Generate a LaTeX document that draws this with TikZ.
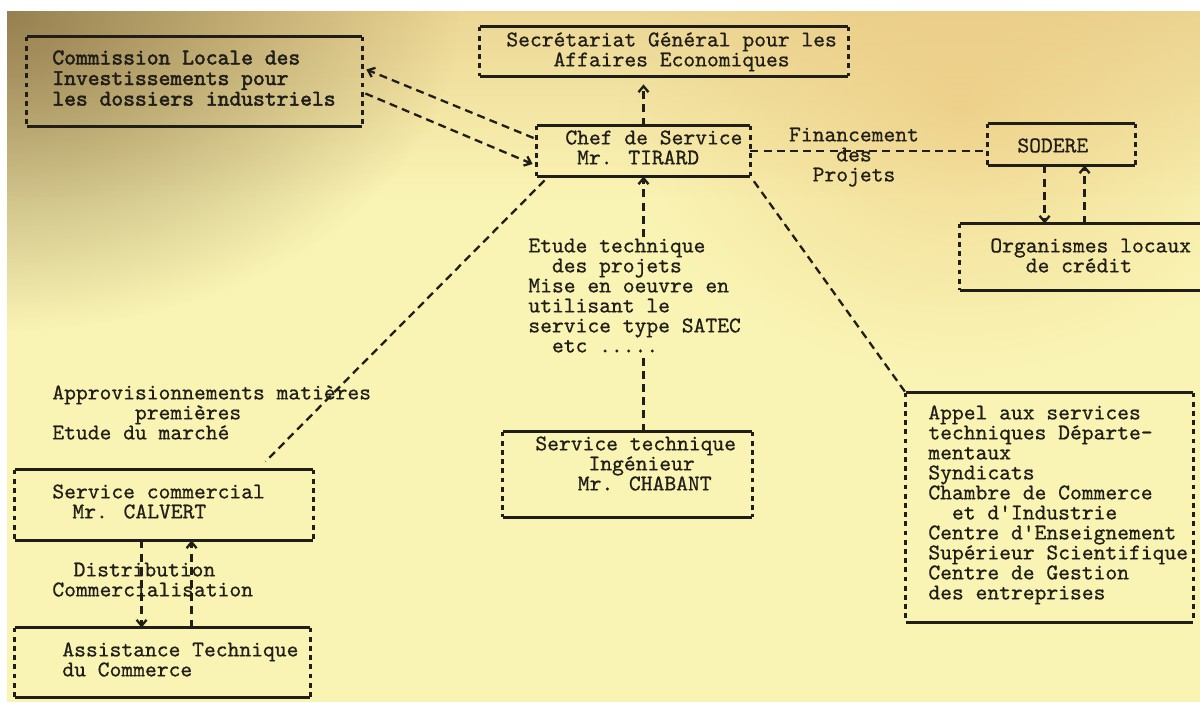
\documentclass[tikz,border=0pt]{standalone}
\usepackage{fontspec}
\newfontfamily\tw{lmmono10-regular.otf}[FakeBold=0.7]
\newfontfamily\twb{lmmono10-regular.otf}[FakeBold=2.2]
\usetikzlibrary{arrows.meta,calc,fit,fadings}
\definecolor{paper}{RGB}{250,244,180}
\definecolor{tanc}{RGB}{236,214,148}
\definecolor{umber}{RGB}{140,118,72}
\definecolor{peach}{RGB}{232,190,115}
\definecolor{ink}{RGB}{32,30,24}
\newlength\chw \setlength\chw{5.9pt}
\newcommand{\tind}[1]{\hspace*{#1\chw}}
\newcommand{\fstrut}{\rule{0pt}{7.5pt}}
\tikzfading[name=radfade, inner color=transparent!0, outer color=transparent!100]
\newcommand{\tbox}[5]{%
  \node[fit={(#2,#3) (#4,#5)}, inner sep=0pt] (#1) {};
  \draw[hedge] (#1.north west) -- (#1.north east);
  \draw[hedge] (#1.south west) -- (#1.south east);
  \draw[vedge] (#1.north west) -- (#1.south west);
  \draw[vedge] (#1.north east) -- (#1.south east);
}
\begin{document}
\begin{tikzpicture}[x=0.5pt,y=-0.5pt,
  hedge/.style={draw=ink, line width=1.2pt},
  vedge/.style={draw=ink, line width=1.2pt, dash pattern=on 2.4pt off 2.2pt},
  conn/.style={draw=ink, line width=1.15pt, dash pattern=on 4pt off 2.6pt,
     >={Straight Barb[length=3pt,width=5pt]}},
  txt/.style={anchor=north west, inner sep=0pt, align=left, text=ink,
     font=\tw\fontsize{11.24}{10}\selectfont},
  ctxt/.style={txt, anchor=north, align=center}]
\useasboundingbox (0,0) rectangle (1200,702);
% paper
\fill[white] (0,0) rectangle (1200,702);
\begin{scope}
  \clip (7,11) rectangle (1200,702);
  \fill[paper] (7,11) rectangle (1200,702);
  \shade[top color=tanc, bottom color=paper] (7,11) rectangle (1200,200);
  \fill[peach, opacity=0.5, path fading=radfade] (960,110) ellipse (340 and 260);
  \fill[umber, opacity=0.9, path fading=radfade] (0,11) ellipse (460 and 320);
\end{scope}
% boxes
\tbox{comm}{27}{37}{362}{126}
\tbox{secr}{480}{27}{848}{76}
\tbox{chef}{537}{126}{750}{176}
\tbox{sod}{988}{124}{1135}{165}
\tbox{org}{960}{224}{1215}{290}
\tbox{stech}{503}{432}{752}{517}
\tbox{appel}{906}{393}{1193}{622}
\tbox{csvc}{15}{470}{313}{540}
\tbox{assist}{15}{628}{310}{697}
% texts
\node[txt, font=\twb\fontsize{11.24}{10.3}\selectfont] (commtxt) at (52,49)
  {\fstrut Commission Locale des\\Investissements pour\\les dossiers industriels};
\node[txt] (secrtxt) at (506,31) {\fstrut Secrétariat Général pour les\\\tind{4}Affaires Economiques};
\node[txt] (cheftxt) at (565,129) {\fstrut Chef de Service\\\tind{1}Mr. TIRARD};
\node[ctxt] (fintxt) at (854,126) {\fstrut Financement\\des\\Projets};
\node[txt] (sodtxt) at (1017,137) {\fstrut SODERE};
\node[txt] (orgtxt) at (990,237) {\fstrut Organismes locaux\\\tind{3}de crédit};
\node[txt] (etude) at (528,237) {\fstrut Etude technique\\\tind{2}des projets\\Mise en oeuvre en\\utilisant le\\service type SATEC\\\tind{2}etc .....};
\node[txt] (stechtxt) at (535,435) {\fstrut Service technique\\\tind{4.5}Ingénieur\\\tind{3.6}Mr. CHABANT};
\node[txt] (appeltxt) at (928,404) {\fstrut Appel aux services\\techniques Départe-\\mentaux\\Syndicats\\Chambre de Commerce\\\tind{2}et d'Industrie\\Centre d'Enseignement\\Supérieur Scientifique\\Centre de Gestion\\des entreprises};
\node[txt] (approtxt) at (52,384) {\fstrut Approvisionnements matières\\\tind{7}premières\\Etude du marché};
\node[txt] (csvctxt) at (52,483) {\fstrut Service commercial\\\tind{1.7}Mr. CALVERT};
\node[txt] (disttxt) at (52,561) {\fstrut\tind{1.8}Distribution\\Commercialisation};
\node[txt] (assisttxt) at (62,641) {\fstrut Assistance Technique\\du Commerce};
% connectors
\draw[conn,->,shorten >=4pt] (chef.north) -- (chef.north |- secr.south);
\draw[conn,->] ($(chef.west)+(-3,-13)$) -- ($(comm.east)+(4,-12)$);
\draw[conn,->] ($(comm.east)+(3,12)$) -- ($(chef.west)+(-4,13)$);
\draw[conn] (chef.east) -- (chef.east -| sod.west);
\coordinate (s1) at ($(sod.south west)+(57,0)$);
\coordinate (s2) at ($(sod.south west)+(97,0)$);
\draw[conn,->] (s1) -- (s1 |- org.north);
\draw[conn,->] (s2 |- org.north) -- (s2);
\draw[conn,shorten <=3pt] (chef.south east) -- (appel.north west);
\draw[conn] ($(chef.south west)+(8,4)$) -- ($(csvc.north east)+(-48,-8)$);
\draw[conn,->] (chef.south |- etude.north) -- (chef.south);
\draw[conn] (chef.south |- stech.north) -- (chef.south |- etude.south);
\coordinate (c1) at ($(csvc.south west)+(127,0)$);
\coordinate (c2) at ($(csvc.south west)+(177,0)$);
\draw[conn,->] (c1) -- (c1 |- assist.north);
\draw[conn,->] (c2 |- assist.north) -- (c2);
\end{tikzpicture}
\end{document}
